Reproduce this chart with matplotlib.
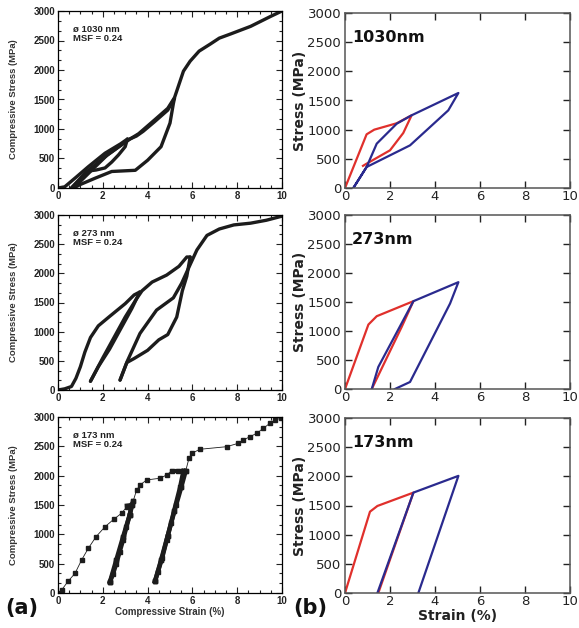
import matplotlib
matplotlib.use('Agg')
import matplotlib.pyplot as plt
from matplotlib.ticker import MultipleLocator

# ---- experimental curves (left column), strain % / stress MPa ----
# 1030 nm
e1030_load1_x = [0, 0.3, 0.8, 1.35, 2.1, 2.8, 3.1]
e1030_load1_y = [0, 20, 180, 360, 590, 750, 830]
e1030_unload1_x = [3.1, 3.0, 2.7, 2.4, 2.1, 1.7, 1.4, 1.0, 0.6]
e1030_unload1_y = [830, 700, 560, 440, 340, 305, 290, 150, 0]
e1030_reload1_x = [0.6, 1.2, 2.1, 2.8, 3.2, 3.5, 3.8, 4.3, 4.9, 5.2]
e1030_reload1_y = [0, 250, 530, 720, 830, 880, 960, 1120, 1320, 1520]
e1030_unload2_x = [5.2, 5.15, 5.0, 4.6, 4.0, 3.45, 2.4, 1.65, 1.0, 0.7]
e1030_unload2_y = [1520, 1430, 1100, 700, 470, 300, 280, 165, 60, 0]
e1030_reload2_x = [0.7, 1.5, 2.2, 3.0, 3.6, 4.3, 4.9, 5.2, 5.6, 5.9, 6.3, 6.8, 7.2, 7.7, 8.6, 9.5, 10]
e1030_reload2_y = [0, 300, 560, 780, 920, 1150, 1350, 1530, 1980, 2150, 2320, 2440, 2540, 2610, 2740, 2910, 3000]

# 273 nm
e273_load1_x = [0, 0.3, 0.6, 0.8, 1.0, 1.2, 1.45, 1.8, 2.3, 3.0, 3.4, 3.65]
e273_load1_y = [0, 20, 60, 200, 400, 650, 900, 1100, 1260, 1480, 1630, 1680]
e273_unload1_x = [3.65, 3.3, 2.8, 2.3, 1.8, 1.45]
e273_unload1_y = [1680, 1400, 1050, 700, 400, 150]
e273_reload1_x = [1.45, 2.0, 2.5, 3.0, 3.5, 3.75, 4.2, 4.85, 5.4, 5.75, 5.9]
e273_reload1_y = [150, 550, 900, 1250, 1560, 1700, 1850, 1970, 2120, 2280, 2280]
e273_unload2_x = [5.9, 5.75, 5.55, 5.3, 4.9, 4.5, 4.0, 3.4, 3.07, 2.77]
e273_unload2_y = [2280, 1950, 1700, 1250, 950, 860, 680, 540, 470, 170]
e273_reload2_x = [2.77, 3.1, 3.66, 4.4, 5.15, 5.52, 5.9, 6.2, 6.65, 7.2, 7.85, 8.6, 9.3, 10]
e273_reload2_y = [170, 500, 970, 1370, 1580, 1830, 2150, 2400, 2650, 2760, 2830, 2860, 2910, 2980]

# 173 nm
e173_load1_x = [0, 0.16, 0.45, 0.76, 1.05, 1.35, 1.7, 2.1, 2.5, 2.84, 3.07, 3.29]
e173_load1_y = [0, 50, 200, 335, 560, 760, 960, 1130, 1260, 1360, 1470, 1500]
e173_unload1_x = [3.29, 3.2, 3.05, 2.9, 2.75, 2.6, 2.45, 2.32]
e173_unload1_y = [1500, 1330, 1120, 900, 700, 500, 320, 190]
e173_reload1_x = [2.32, 2.6, 2.9, 3.2, 3.35, 3.51, 3.66, 3.96, 4.55, 4.85, 5.07, 5.35, 5.6]
e173_reload1_y = [190, 560, 950, 1330, 1560, 1756, 1841, 1927, 1956, 2012, 2080, 2080, 2080]
e173_unload2_x = [5.6, 5.45, 5.25, 5.05, 4.85, 4.65, 4.45, 4.33]
e173_unload2_y = [2080, 1800, 1500, 1200, 900, 600, 350, 200]
e173_reload2_x = [4.33, 4.6, 4.9, 5.2, 5.5, 5.7, 5.85, 5.97, 6.34, 7.53, 8.05, 8.28, 8.57, 8.87, 9.17, 9.46, 9.69, 9.95]
e173_reload2_y = [200, 560, 980, 1400, 1800, 2080, 2300, 2382, 2450, 2494, 2552, 2609, 2665, 2722, 2808, 2893, 2950, 2980]

# ---- simulated curves (right column) ----
s1030_red_x = [0, 0.96, 1.3, 2.3, 2.96, 2.59, 2.0, 0.96, 0.8]
s1030_red_y = [0, 920, 1000, 1110, 1246, 943, 646, 417, 380]
s1030_blue_x = [0.37, 0.96, 1.41, 2.3, 2.96, 5.04, 4.59, 2.89, 0.96, 0.37]
s1030_blue_y = [0, 360, 760, 1103, 1246, 1629, 1331, 731, 360, 0]

s273_red_x = [0, 1.04, 1.41, 3.04, 2.52, 1.19]
s273_red_y = [0, 1111, 1255, 1514, 1071, 0]
s273_blue_x = [1.19, 1.48, 3.04, 5.04, 4.67, 2.89, 2.22]
s273_blue_y = [0, 380, 1514, 1842, 1474, 121, 0]

s173_red_x = [0, 1.11, 1.44, 3.04, 1.48]
s173_red_y = [0, 1394, 1492, 1721, 0]
s173_blue_x = [1.44, 3.04, 5.04, 3.26]
s173_blue_y = [0, 1721, 2008, 0]

W, H = 579, 628
fig = plt.figure(figsize=(W / 100, H / 100), dpi=100)

def rect(x0, y_top, x1, y_bot):
    return [x0 / W, 1 - y_bot / H, (x1 - x0) / W, (y_bot - y_top) / H]

left_rows = [(11, 188), (215, 390), (417, 593)]
right_rows = [(13, 188), (215, 389), (418, 593)]

exp_data = [
    [(e1030_load1_x, e1030_load1_y), (e1030_unload1_x, e1030_unload1_y), (e1030_reload1_x, e1030_reload1_y),
     (e1030_unload2_x, e1030_unload2_y), (e1030_reload2_x, e1030_reload2_y)],
    [(e273_load1_x, e273_load1_y), (e273_unload1_x, e273_unload1_y), (e273_reload1_x, e273_reload1_y),
     (e273_unload2_x, e273_unload2_y), (e273_reload2_x, e273_reload2_y)],
]
sizes = ['1030', '273', '173']
lf = dict(family='Liberation Sans', weight='bold')

for i, (yt, yb) in enumerate(left_rows):
    ax = fig.add_axes(rect(58, yt, 282, yb))
    if i < 2:
        for xs, ys in exp_data[i]:
            ax.plot(xs, ys, color='#1c1c1c', lw=2.4, solid_capstyle='round')
    else:
        for xs, ys in [(e173_load1_x, e173_load1_y), (e173_reload2_x, e173_reload2_y)]:
            ax.plot(xs, ys, color='#1c1c1c', lw=0.6, marker='s', ms=2.2)
        ax.plot(e173_reload1_x, e173_reload1_y, color='#1c1c1c', lw=0.6, marker='s', ms=2.2)
        for xs, ys in [(e173_unload1_x, e173_unload1_y), (e173_reload1_x[:5], e173_reload1_y[:5]),
                       (e173_unload2_x, e173_unload2_y), (e173_reload2_x[:6], e173_reload2_y[:6])]:
            ax.plot(xs, ys, color='#1c1c1c', lw=3.2, marker='s', ms=3)
        ax.plot([5.07, 5.6], [2080, 2080], color='#1c1c1c', lw=3)
        ax.plot([3.07, 3.29], [1490, 1500], color='#1c1c1c', lw=3)
    ax.set_xlim(0, 10)
    ax.set_ylim(0, 3000)
    ax.xaxis.set_major_locator(MultipleLocator(2))
    ax.xaxis.set_minor_locator(MultipleLocator(0.5))
    ax.yaxis.set_major_locator(MultipleLocator(500))
    ax.yaxis.set_minor_locator(MultipleLocator(500 / 3))
    ax.tick_params(which='both', direction='in', top=True, right=True, width=0.8, colors='#222')
    ax.tick_params(which='major', length=4, labelsize=7, pad=2)
    ax.tick_params(which='minor', length=2)
    for lab in ax.get_xticklabels() + ax.get_yticklabels():
        lab.set_fontfamily('Liberation Sans')
        lab.set_fontweight('bold')
    for sp in ax.spines.values():
        sp.set_linewidth(0.9)
    ax.text(0.065, 0.92, '\u00f8 ' + sizes[i] + ' nm\nMSF = 0.24', transform=ax.transAxes,
            fontsize=6.8, va='top', ha='left', linespacing=1.0, color='#222', **lf)
    fig.text(14 / W, 1 - (yt + yb) / 2 / H, 'Compressive Stress (MPa)', rotation=90,
             ha='center', va='center', fontsize=6.8, color='#333', **lf)

fig.text(170 / W, 1 - 612 / H, 'Compressive Strain (%)', ha='center', va='center',
         fontsize=7, color='#333', **lf)

sim_data = [
    (s1030_red_x, s1030_red_y, s1030_blue_x, s1030_blue_y),
    (s273_red_x, s273_red_y, s273_blue_x, s273_blue_y),
    (s173_red_x, s173_red_y, s173_blue_x, s173_blue_y),
]
for i, (yt, yb) in enumerate(right_rows):
    ax = fig.add_axes(rect(345, yt, 570, yb))
    rx, ry, bx, by = sim_data[i]
    ax.plot(rx, ry, color='#e0302c', lw=1.6)
    ax.plot(bx, by, color='#2a2a8e', lw=1.6)
    ax.set_xlim(0, 10)
    ax.set_ylim(0, 3000)
    ax.xaxis.set_major_locator(MultipleLocator(2))
    ax.yaxis.set_major_locator(MultipleLocator(500))
    ax.tick_params(direction='in', top=True, right=True, length=5, width=1,
                   labelsize=9.5, colors='#222')
    ax.tick_params(axis='x', pad=1.5)
    ax.tick_params(axis='y', pad=2.8)
    for sp in ax.spines.values():
        sp.set_color('#555')
        sp.set_linewidth(1.1)
    ax.text(0.03, 0.86, sizes[i] + 'nm', transform=ax.transAxes, fontsize=11.5,
            fontweight='bold', color='#111', ha='left', va='center')
    fig.text(300 / W, 1 - (yt + yb) / 2 / H, 'Stress (MPa)', rotation=90, ha='center',
             va='center', fontsize=10, fontweight='bold', color='#222')

fig.text(458 / W, 1 - 620 / H, 'Strain (%)', ha='center', va='baseline', fontsize=10,
         fontweight='bold', color='#222')
fig.text(5 / W, 1 - 608 / H, '(a)', ha='left', va='center', fontsize=15, fontweight='bold', color='#111')
fig.text(293 / W, 1 - 608 / H, '(b)', ha='left', va='center', fontsize=15, fontweight='bold', color='#111')

fig.savefig('out.png', dpi=100)
